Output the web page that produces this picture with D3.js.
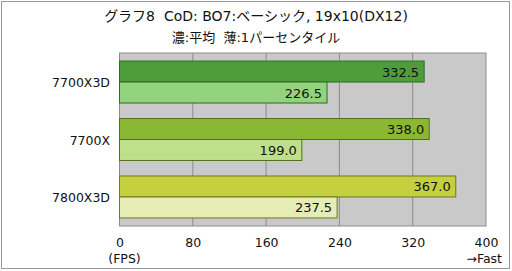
<!DOCTYPE html>
<html>
<head>
<meta charset="utf-8">
<script src="https://cdn.jsdelivr.net/npm/d3@7"></script>
<style>
body { margin: 0; background: #fff; }
svg text { font-family: "DejaVu Sans", "Noto Sans CJK JP", sans-serif; white-space: pre; }
</style>
</head>
<body>
<svg id="chart" width="512" height="271"></svg>
<script>
// data
var categories = ['7700X3D', '7700X', '7800X3D'];
var avgFps = [332.5, 338.0, 367.0];
var lowFps = [226.5, 199.0, 237.5];
var ticks = [0, 80, 160, 240, 320, 400];
var title = 'グラフ8  CoD: BO7:ベーシック, 19x10(DX12)';
var subtitle = '濃:平均  薄:1パーセンタイル';

var darkColors = ['#4f9d3a', '#8ab833', '#c4d03d'];
var lightColors = ['#93d37e', '#bfe08b', '#e6edb4'];
var strokeColors = ['#2f6b22', '#52701c', '#6f7820'];

function draw() {
    var svg = d3.select('#chart');

    // outer frame
    svg.append('rect')
        .attr('x', 1.5).attr('y', 1.5)
        .attr('width', 508).attr('height', 267)
        .attr('fill', '#fff')
        .attr('stroke', '#999')
        .attr('stroke-width', 1);

    svg.append('text')
        .attr('x', 256).attr('y', 21)
        .attr('text-anchor', 'middle')
        .attr('font-size', 14)
        .attr('fill', '#111')
        .text(title);

    svg.append('text')
        .attr('x', 256).attr('y', 42)
        .attr('text-anchor', 'middle')
        .attr('font-size', 13)
        .attr('fill', '#111')
        .text(subtitle);

    var plotLeft = 119.5, plotRight = 486, plotTop = 53, plotBottom = 226;

    var x = d3.scaleLinear().domain([0, 400]).range([plotLeft, plotRight]);
    var y = d3.scaleBand().domain(categories).range([plotTop, plotBottom]).paddingInner(0.27).paddingOuter(0.14);

    // plot background
    svg.append('rect')
        .attr('x', plotLeft).attr('y', plotTop)
        .attr('width', plotRight - plotLeft).attr('height', plotBottom - plotTop)
        .attr('fill', '#c9c9c9');

    // gridlines
    svg.append('g').selectAll('line')
        .data(ticks.slice(1, -1))
        .enter().append('line')
        .attr('x1', function(d) { return x(d); })
        .attr('x2', function(d) { return x(d); })
        .attr('y1', plotTop).attr('y2', plotBottom)
        .attr('stroke', '#8c8c8c')
        .attr('stroke-width', 1);

    svg.append('rect')
        .attr('x', plotLeft).attr('y', plotTop)
        .attr('width', plotRight - plotLeft).attr('height', plotBottom - plotTop)
        .attr('fill', 'none')
        .attr('stroke', '#8c8c8c')
        .attr('stroke-width', 1);

    var bh = y.bandwidth() / 2;

    var groups = svg.append('g').selectAll('g')
        .data(categories)
        .enter().append('g');

    // average bars
    groups.append('rect')
        .attr('x', x(0))
        .attr('y', function(d) { return y(d); })
        .attr('width', function(d, i) { return x(avgFps[i]) - x(0); })
        .attr('height', bh)
        .attr('fill', function(d, i) { return darkColors[i]; })
        .attr('stroke', function(d, i) { return strokeColors[i]; })
        .attr('stroke-width', 1);

    // 1 percentile bars
    groups.append('rect')
        .attr('x', x(0))
        .attr('y', function(d) { return y(d) + bh; })
        .attr('width', function(d, i) { return x(lowFps[i]) - x(0); })
        .attr('height', bh)
        .attr('fill', function(d, i) { return lightColors[i]; })
        .attr('stroke', function(d, i) { return strokeColors[i]; })
        .attr('stroke-width', 1);

    groups.append('text')
        .attr('x', function(d, i) { return x(avgFps[i]) - 5; })
        .attr('y', function(d) { return y(d) + bh / 2 + 5; })
        .attr('text-anchor', 'end')
        .attr('font-size', 13)
        .attr('fill', '#111')
        .text(function(d, i) { return avgFps[i].toFixed(1); });

    groups.append('text')
        .attr('x', function(d, i) { return x(lowFps[i]) - 5; })
        .attr('y', function(d) { return y(d) + bh * 1.5 + 5; })
        .attr('text-anchor', 'end')
        .attr('font-size', 13)
        .attr('fill', '#111')
        .text(function(d, i) { return lowFps[i].toFixed(1); });

    // category labels
    groups.append('text')
        .attr('x', 110)
        .attr('y', function(d) { return y(d) + bh + 5; })
        .attr('text-anchor', 'end')
        .attr('font-size', 12.5)
        .attr('fill', '#111')
        .text(function(d) { return d; });

    // x axis
    var xAxis = d3.axisBottom(x).tickValues(ticks).tickSize(0).tickPadding(0);
    var ax = svg.append('g').attr('transform', 'translate(0,' + (plotBottom + 12) + ')').call(xAxis);
    ax.select('.domain').remove();
    ax.selectAll('text')
        .attr('font-size', 12.5)
        .attr('fill', '#111')
        .attr('dy', '0.71em')
        .style('font-family', '"DejaVu Sans", sans-serif');

    svg.append('text')
        .attr('x', x(0) + 5).attr('y', 263)
        .attr('text-anchor', 'middle')
        .attr('font-size', 12.5)
        .attr('fill', '#111')
        .text('(FPS)');

    svg.append('text')
        .attr('x', 502).attr('y', 263)
        .attr('text-anchor', 'end')
        .attr('font-size', 12.5)
        .attr('fill', '#111')
        .text('→Fast');
}

draw();
</script>
</body>
</html>
